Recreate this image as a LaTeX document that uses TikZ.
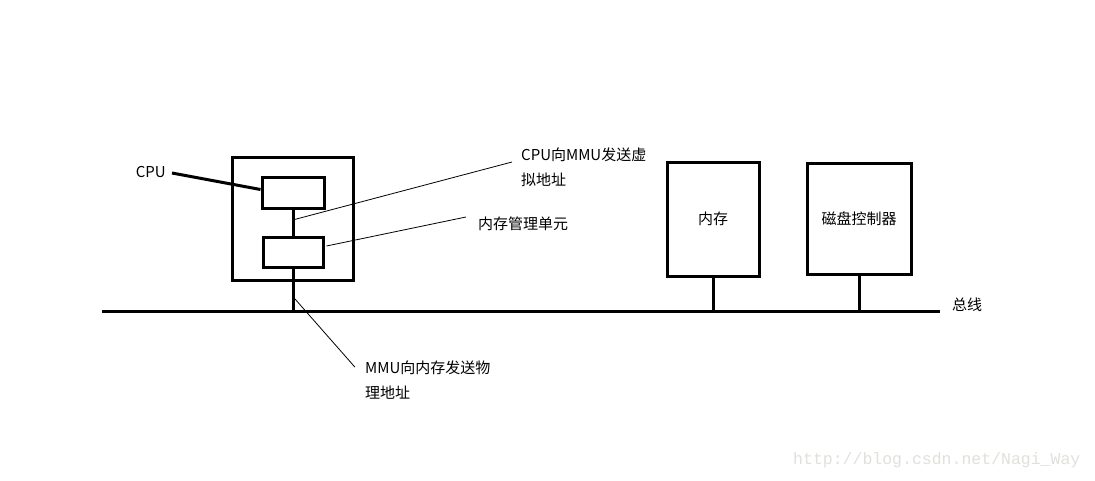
\documentclass[tikz,border=0pt]{standalone}
\usepackage{fontspec}
\setmainfont{Noto Sans CJK SC}
\newfontfamily\wmfont{Liberation Mono}
\usetikzlibrary{positioning,calc}
\definecolor{wmgray}{RGB}{226,224,220}

\begin{document}
\begin{tikzpicture}[x=1pt, y=-1pt,
    block/.style={draw, line width=3pt, inner sep=0pt, font=\fontsize{15}{25}\selectfont},
    wire/.style={line width=3pt},
    leader/.style={line width=0.8pt},
    lbl/.style={font=\fontsize{15}{25}\selectfont, inner sep=0pt, align=left},
  ]
  \useasboundingbox[fill=white] (0,0) rectangle (1095,480);

  % Chip with CPU and MMU
  \node[block, minimum width=121pt, minimum height=123pt] (chip) at (292.5,218.5) {};
  \node[block, minimum width=62pt, minimum height=31pt] (cpu) at (293,192.5) {};
  \node[block, minimum width=60pt, minimum height=30pt] (mmu) at (293,252) {};

  % Memory and disk controller
  \node[block, minimum width=92pt, minimum height=114pt] (mem) at (713,219) {内存};
  \node[block, minimum width=104pt, minimum height=111pt] (disk) at (859,218.5) {磁盘控制器};

  % Bus
  \coordinate (busL) at (102,311);
  \coordinate (busR) at (940,311);
  \draw[wire] (busL) -- (busR);
  \node[lbl, anchor=west] (buslbl) at (952,305) {总线};

  % Stems
  \draw[wire] (cpu.south) -- (mmu.north);
  \draw[wire] (mmu.south) -- ($(mmu.south |- busL)+(0,2)$);
  \draw[wire] (mem.south) -- (mem.south |- busL);
  \draw[wire] (disk.south) -- ($(disk.south |- busL)+(0,2)$);

  % CPU label
  \node[lbl, anchor=east] (cpulbl) at (166,172) {CPU};
  \draw[wire] ($(cpulbl.east)+(6,1)$) -- ($(cpu.west)+(0,-3)$);

  % Annotations
  \node[lbl, anchor=north west] (vlbl) at (521,148) {CPU向MMU发送虚\\拟地址};
  \node[lbl, anchor=west] (mlbl) at (478,224) {内存管理单元};
  \node[lbl, anchor=north west] (plbl) at (365,360.7) {MMU向内存发送物\\理地址};
  \coordinate (pA) at (295,299);
  \draw[leader] ($(cpu.south)!0.4!(mmu.north)$) -- ($(vlbl.north west)+(-9,14)$);
  \draw[leader] ($(mmu.east)+(2,-6)$) -- ($(mlbl.west)+(-12,-7)$);
  \draw[leader] (pA) -- ($(plbl.north west)+(-10,6.5)$);

  % Watermark
  \node[font=\wmfont\fontsize{16.5}{18}\selectfont, text=wmgray, anchor=west, inner sep=0pt] (wm) at (793,460) {http://blog.csdn.net/Nagi\_Way};
\end{tikzpicture}
\end{document}
